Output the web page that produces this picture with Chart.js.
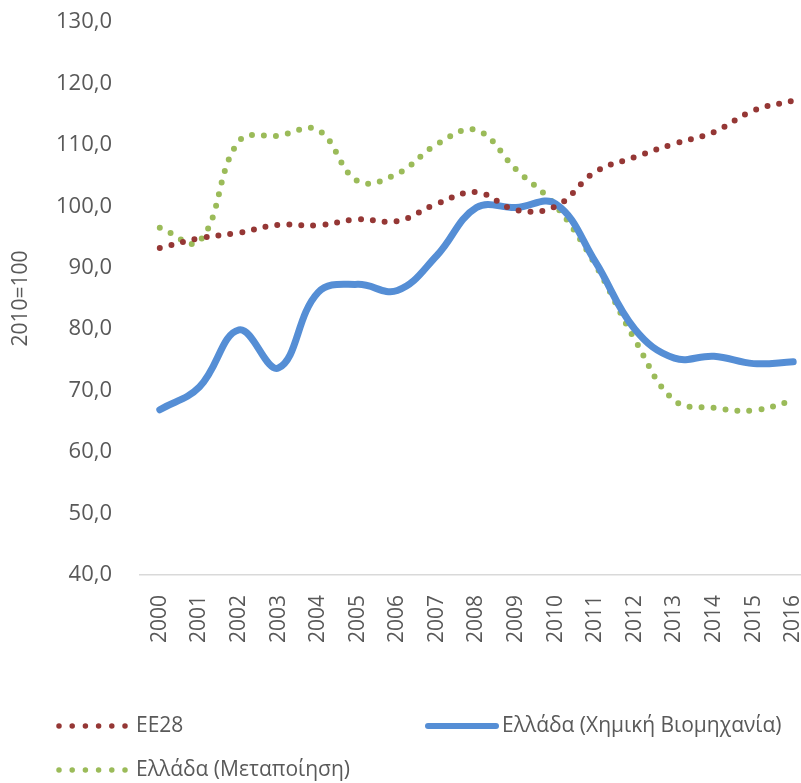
<!DOCTYPE html>
<html>
<head>
<meta charset="utf-8">
<script src="https://cdn.jsdelivr.net/npm/chart.js@4"></script>
<style>
  html, body { margin: 0; padding: 0; background: #fff; overflow: hidden; }
  #wrap { width: 801px; height: 783px; overflow: hidden; }
</style>
</head>
<body>
<div id="wrap"><canvas id="canvas" width="813" height="783"></canvas></div>
<script>
// Years on the X-axis
let years = ['2000', '2001', '2002', '2003', '2004', '2005', '2006', '2007', '2008', '2009', '2010', '2011', '2012', '2013', '2014', '2015', '2016'];
// Index values, 2010=100
let ee28 = [93.2, 94.8, 95.7, 97.0, 96.9, 97.9, 97.6, 100.4, 102.3, 99.4, 100.0, 105.6, 108.0, 110.2, 112.1, 115.6, 117.2];
let chemical = [66.9, 70.6, 79.9, 73.7, 86.0, 87.3, 86.3, 92.0, 99.8, 99.8, 100.4, 91.0, 80.0, 75.3, 75.6, 74.4, 74.7];
let manufacturing = [96.5, 94.3, 110.6, 111.5, 112.4, 104.1, 105.3, 110.1, 112.4, 106.0, 100.1, 90.5, 78.3, 68.4, 67.2, 66.8, 68.4];
let seriesNames = ['ΕΕ28', 'Ελλάδα (Χημική Βιομηχανία)', 'Ελλάδα (Μεταποίηση)'];

const textColor = '#595959';
const font = { family: 'Open Sans', size: 21 };

// legend drawn by hand so the dotted style shows like the original
const bottomLegend = {
  id: 'bottomLegend',
  afterDraw(chart) {
    const ctx = chart.ctx;
    const spots = [[59, 726], [428, 726], [59, 770]];
    chart.data.datasets.forEach((ds, i) => {
      const [x, y] = spots[i];
      ctx.save();
      ctx.strokeStyle = ds.borderColor;
      ctx.lineWidth = ds.dotted ? 5.5 : 6;
      ctx.lineCap = 'round';
      ctx.setLineDash(ds.dotted ? [0, 13.2] : []);
      ctx.beginPath();
      ctx.moveTo(x, y);
      ctx.lineTo(ds.dotted ? x + 67 : x + 68, y);
      ctx.stroke();
      ctx.setLineDash([]);
      ctx.fillStyle = textColor;
      ctx.font = '21px "Open Sans"';
      ctx.textBaseline = 'middle';
      ctx.fillText(ds.label, x + (ds.dotted ? 77 : 74), y);
      ctx.restore();
    });
  }
};

new Chart(document.getElementById('canvas'), {
  type: 'line',
  data: {
    labels: years,
    datasets: [{
      label: seriesNames[0],
      data: ee28,
      borderColor: '#953735',
      borderWidth: 6,
      borderDash: [0, 12],
      borderCapStyle: 'round',
      dotted: true
    }, {
      label: seriesNames[1],
      data: chemical,
      borderColor: '#558ed5',
      borderWidth: 7,
      borderCapStyle: 'round',
      dotted: false
    }, {
      label: seriesNames[2],
      data: manufacturing,
      borderColor: '#9bbb59',
      borderWidth: 6,
      borderDash: [0, 12],
      borderCapStyle: 'round',
      dotted: true
    }]
  },
  options: {
    responsive: false,
    animation: false,
    layout: { padding: { top: 22, left: 0, right: 0, bottom: 0 } },
    elements: {
      point: { radius: 0 },
      line: { tension: 0.4, fill: false }
    },
    plugins: {
      legend: { display: false },
      tooltip: { enabled: false }
    },
    scales: {
      x: {
        offset: true,
        grid: { color: 'rgba(0,0,0,0)', drawTicks: false },
        border: { color: '#d9d9d9', width: 1.5 },
        ticks: { color: textColor, font: font, minRotation: 90, maxRotation: 90, padding: 20, autoSkip: false },
        afterFit(axis) {
          axis.height = 208;
          axis.paddingLeft = 0;
          axis.paddingRight = 0;
        }
      },
      y: {
        min: 40,
        max: 130,
        grid: { display: false },
        border: { display: false },
        ticks: {
          stepSize: 10,
          color: textColor,
          font: { family: 'Open Sans', size: 22 },
          padding: 20,
          callback: (v) => v.toFixed(1).replace('.', ',')
        },
        title: { display: true, text: '2010=100', color: textColor, font: font, padding: { top: 8, bottom: 0 } },
        afterFit(axis) {
          axis.width = 140;
          axis.paddingTop = 0;
          axis.paddingBottom = 0;
        }
      }
    }
  },
  plugins: [bottomLegend]
});
</script>
</body>
</html>
